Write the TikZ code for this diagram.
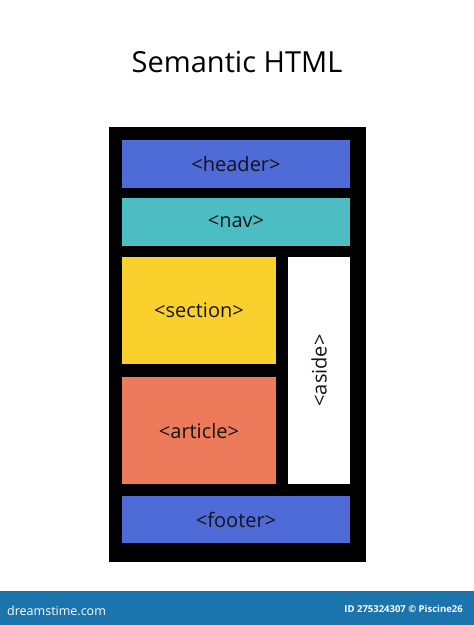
\documentclass[tikz,border=0pt]{standalone}
\usepackage{fontspec}
\setmainfont{Open Sans}
\usepackage{xcolor}
\usepackage{tikz}
\usetikzlibrary{positioning}

\definecolor{headerblue}{HTML}{4F6BD8}
\definecolor{navteal}{HTML}{4DBDC4}
\definecolor{sectionyellow}{HTML}{FAD02C}
\definecolor{articlered}{HTML}{EC7A5B}
\definecolor{barblue}{HTML}{1C74AC}

\tikzset{
  tagbox/.style={inner sep=0pt, font=\fontsize{20}{24}\selectfont, text=black!92},
}

\begin{document}
\begin{tikzpicture}[x=1pt,y=-1pt]
\useasboundingbox (0,0) rectangle (474,625);

% title
\node (title) at (237,62) {\fontsize{29}{34}\selectfont Semantic HTML};

% page frame
\fill[black] (109,127) rectangle (366,562);

% blocks
\node[tagbox, fill=headerblue, minimum width=228pt, minimum height=48pt] (header) at (236,164) {<header>};
\node[tagbox, fill=navteal, minimum width=228pt, minimum height=48pt] (nav) at (236,222) {<nav>};
\node[tagbox, fill=sectionyellow, minimum width=154pt, minimum height=107pt] (section) at (199,310.5) {<section>};
\node[tagbox, fill=articlered, minimum width=154pt, minimum height=107pt] (article) at (199,430.5) {<article>};
\node[tagbox, fill=white, minimum width=227pt, minimum height=62pt, rotate=90] (aside) at (319,370.5) {<aside>};
\node[tagbox, fill=headerblue, minimum width=228pt, minimum height=47pt] (footer) at (236,519.5) {<footer>};

% bottom bar
\fill[barblue] (0,591) rectangle (474,625);
\node[anchor=west, text=white, inner sep=0pt] (logo) at (7,611) {\fontsize{12.5}{15}\selectfont dreamstime.com};
\node[anchor=east, text=white, inner sep=0pt] (credit) at (463,609) {\fontsize{9.5}{11}\selectfont\bfseries ID 275324307 \textcopyright{} Piscine26};

\end{tikzpicture}
\end{document}
